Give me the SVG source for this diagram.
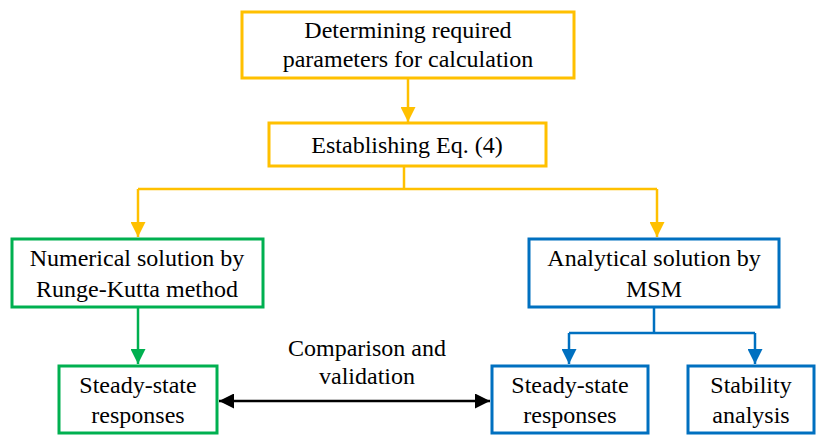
<svg xmlns="http://www.w3.org/2000/svg" width="816" height="435" viewBox="0 0 816 435">
<defs>
<style>
.box{fill:#fff;stroke-width:3}
.y{stroke:#FFC000}.g{stroke:#00B050}.b{stroke:#0070C0}.k{stroke:#000}
.ln{fill:none;stroke-width:2.5}
</style>
<marker id="ay" viewBox="0 0 10 10" refX="10" refY="5" markerWidth="15" markerHeight="15" markerUnits="userSpaceOnUse" orient="auto"><path d="M0,0L10,5L0,10z" fill="#FFC000"/></marker>
<marker id="ag" viewBox="0 0 10 10" refX="10" refY="5" markerWidth="15" markerHeight="15" markerUnits="userSpaceOnUse" orient="auto"><path d="M0,0L10,5L0,10z" fill="#00B050"/></marker>
<marker id="ab" viewBox="0 0 10 10" refX="10" refY="5" markerWidth="15" markerHeight="15" markerUnits="userSpaceOnUse" orient="auto"><path d="M0,0L10,5L0,10z" fill="#0070C0"/></marker>
<marker id="ak" viewBox="0 0 10 10" refX="10" refY="5" markerWidth="15" markerHeight="15" markerUnits="userSpaceOnUse" orient="auto-start-reverse"><path d="M0,0L10,5L0,10z" fill="#000"/></marker>
</defs>
<rect width="816" height="435" fill="#fff"/>
<g id="connectors">
<path class="ln y" d="M408,78V122" marker-end="url(#ay)"/>
<path class="ln y" d="M404,166V189"/>
<path class="ln y" d="M138,189H657"/>
<path class="ln y" d="M138,189V237" marker-end="url(#ay)"/>
<path class="ln y" d="M657,189V237" marker-end="url(#ay)"/>
<path class="ln g" d="M138,307V364" marker-end="url(#ag)"/>
<path class="ln b" d="M654,307V333"/>
<path class="ln b" d="M569,333H755"/>
<path class="ln b" d="M569,333V364" marker-end="url(#ab)"/>
<path class="ln b" d="M755,333V364" marker-end="url(#ab)"/>
<path class="ln k" d="M219,401H490" marker-start="url(#ak)" marker-end="url(#ak)"/>
</g>
<g id="n1"><rect class="box y" x="242" y="12" width="332" height="66"/><text font-family="Liberation Serif" font-size="24" text-anchor="middle" x="408" y="38">Determining required</text><text font-family="Liberation Serif" font-size="24" text-anchor="middle" x="408" y="67">parameters for calculation</text></g>
<g id="n2"><rect class="box y" x="269" y="123" width="277" height="43"/><text font-family="Liberation Serif" font-size="24" text-anchor="middle" x="407" y="153">Establishing Eq. (4)</text></g>
<g id="n3"><rect class="box g" x="12" y="239" width="251" height="68"/><text font-family="Liberation Serif" font-size="24" text-anchor="middle" x="137" y="266">Numerical solution by</text><text font-family="Liberation Serif" font-size="24" text-anchor="middle" x="137" y="297">Runge-Kutta method</text></g>
<g id="n4"><rect class="box b" x="529" y="239" width="250" height="68"/><text font-family="Liberation Serif" font-size="24" text-anchor="middle" x="654" y="266">Analytical solution by</text><text font-family="Liberation Serif" font-size="24" text-anchor="middle" x="654" y="297">MSM</text></g>
<g id="n5"><rect class="box g" x="59" y="366" width="158" height="67"/><text font-family="Liberation Serif" font-size="24" text-anchor="middle" x="138" y="393">Steady-state</text><text font-family="Liberation Serif" font-size="24" text-anchor="middle" x="138" y="423">responses</text></g>
<g id="n6"><rect class="box b" x="492" y="366" width="156" height="67"/><text font-family="Liberation Serif" font-size="24" text-anchor="middle" x="570" y="393">Steady-state</text><text font-family="Liberation Serif" font-size="24" text-anchor="middle" x="570" y="423">responses</text></g>
<g id="n7"><rect class="box b" x="688" y="366" width="126" height="67"/><text font-family="Liberation Serif" font-size="24" text-anchor="middle" x="751" y="393">Stability</text><text font-family="Liberation Serif" font-size="24" text-anchor="middle" x="751" y="423">analysis</text></g>
<g id="label"><text font-family="Liberation Serif" font-size="24" text-anchor="middle" x="367" y="356">Comparison and</text><text font-family="Liberation Serif" font-size="24" text-anchor="middle" x="367" y="384">validation</text></g>
</svg>
